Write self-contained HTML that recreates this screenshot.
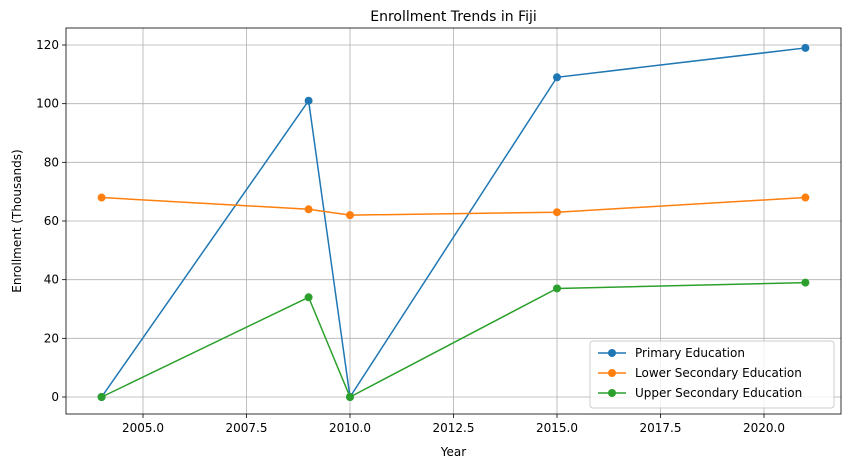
<!DOCTYPE html>
<html><head><meta charset="utf-8"><style>
body{margin:0;background:#fff;font-family:"Liberation Sans","DejaVu Sans",sans-serif}
</style></head><body>
<svg id="c" width="850" height="468" xmlns="http://www.w3.org/2000/svg" font-family="DejaVu Sans, Liberation Sans, sans-serif"></svg>
<script>
const years=[2004,2009,2010,2015,2021];
const primary=[0,101,0,109,119];
const lowerSec=[68,64,62,63,68];
const upperSec=[0,34,0,37,39];
const xTicks=[2005,2007.5,2010,2012.5,2015,2017.5,2020];
const xTickLabels=["2005.0","2007.5","2010.0","2012.5","2015.0","2017.5","2020.0"];
const yTicks=[0,20,40,60,80,100,120];
const seriesNames=["Primary Education","Lower Secondary Education","Upper Secondary Education"];
const colors=["#1f77b4","#ff7f0e","#2ca02c"];
const L=66,R=841,T=28,B=414;
const x=v=>350+(v-2010)*41.4;
const y=v=>397-v*(352/120);
const svg=document.getElementById('c');
const NS='http://www.w3.org/2000/svg';
function mk(t,a,p){const e=document.createElementNS(NS,t);for(const k in a)e.setAttribute(k,a[k]);(p||svg).appendChild(e);return e;}
const grid=mk('g',{});


xTicks.forEach((t,i)=>{
 mk('line',{x1:x(t),x2:x(t),y1:T,y2:B,stroke:'#b0b0b0','stroke-width':0.8},grid);
 mk('line',{x1:x(t),x2:x(t),y1:B,y2:B+4,stroke:'#000','stroke-width':0.8});
 const tx=mk('text',{x:x(t),y:B+18,'font-size':12,'text-anchor':'middle'});
 tx.textContent=xTickLabels[i];
 
 
});
yTicks.forEach(t=>{
 mk('line',{x1:L,x2:R,y1:y(t),y2:y(t),stroke:'#b0b0b0','stroke-width':0.8},grid);
 mk('line',{x1:L-4,x2:L,y1:y(t),y2:y(t),stroke:'#000','stroke-width':0.8});
 const tx=mk('text',{x:L-7,y:y(t)+4,'font-size':12,'text-anchor':'end'});
 tx.textContent=t;
 
 
});
[primary,lowerSec,upperSec].forEach((s,si)=>{
 const g=mk('g',{});
 
 
 mk('polyline',{points:s.map((v,i)=>x(years[i])+','+y(v)).join(' '),fill:'none',stroke:colors[si],'stroke-width':1.5},g);
 s.forEach((v,i)=>{
  const c=mk('circle',{cx:x(years[i]),cy:y(v),r:4,fill:colors[si]},g);
  
  
 });
});
mk('rect',{x:L,y:T,width:R-L,height:B-T,fill:'none',stroke:'#000','stroke-width':0.8});
const title=mk('text',{x:(L+R)/2,y:21,'font-size':14,'text-anchor':'middle'});title.textContent='Enrollment Trends in Fiji';


const xl=mk('text',{x:(L+R)/2,y:456,'font-size':12,'text-anchor':'middle'});xl.textContent='Year';


const yl=mk('text',{x:0,y:0,'font-size':12,'text-anchor':'middle',transform:'translate(21,221) rotate(-90)'});yl.textContent='Enrollment (Thousands)';


const lg=mk('g',{});


mk('rect',{x:590,y:341,width:244,height:67,rx:3,fill:'#fff','fill-opacity':0.8,stroke:'#ccc'},lg);
seriesNames.forEach((n,i)=>{
 const yy=353+i*20;
 mk('line',{x1:598,x2:626,y1:yy,y2:yy,stroke:colors[i],'stroke-width':1.5},lg);
 mk('circle',{cx:612,cy:yy,r:4,fill:colors[i]},lg);
 const t=mk('text',{x:635,y:yy+4,'font-size':12},lg);t.textContent=n;
 
 
});
</script>
</body></html>
